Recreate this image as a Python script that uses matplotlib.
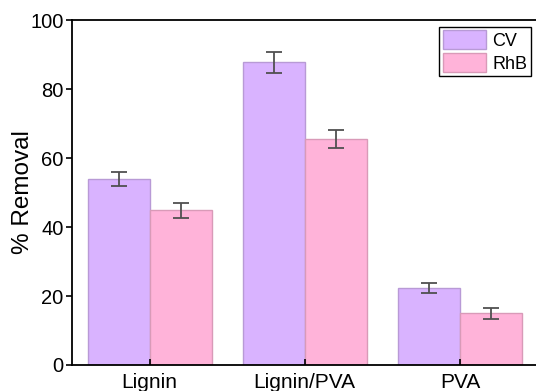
import matplotlib.pyplot as plt
import numpy as np

plt.rcParams['font.family'] = ['Liberation Sans', 'DejaVu Sans']

samples = ["Lignin", "Lignin/PVA", "PVA"]
cv = [53.9, 87.7, 22.3]
cv_err = [2.0, 3.1, 1.5]
rhb = [44.9, 65.5, 15.0]
rhb_err = [2.2, 2.6, 1.6]

x = np.arange(len(samples))
w = 0.4

fig = plt.figure(figsize=(5.36, 3.91), dpi=100)
ax = fig.add_axes([0.1343, 0.0665, 0.8685, 0.8823])

ekw = dict(ecolor="#505050", elinewidth=1.3, capthick=1.3)
ax.bar(x - w/2, cv, w, yerr=cv_err, capsize=5.5, color="#d9b3ff", edgecolor="#b89ad6",
       linewidth=1, label="CV", error_kw=ekw)
ax.bar(x + w/2, rhb, w, yerr=rhb_err, capsize=5.5, color="#ffb3d9", edgecolor="#d99ab8",
       linewidth=1, label="RhB", error_kw=ekw)

ax.set_xlim(-0.5, 2.5)
ax.set_ylim(0, 100)
ax.set_xticks(x)
ax.set_xticklabels(samples, fontsize=15)
ax.set_yticks(np.arange(0, 101, 20))
ax.tick_params(axis='y', labelsize=14.5, direction='out', length=4, width=1.2, pad=2)
ax.tick_params(axis='x', direction='in', length=4, width=1.2, pad=5.5)
ax.set_ylabel("% Removal", fontsize=17.5, labelpad=-3)
for s in ax.spines.values():
    s.set_linewidth(1.3)

leg = ax.legend(loc="upper right", fontsize=13,
                fancybox=False, edgecolor="black", framealpha=1,
                handlelength=2.4, handleheight=1.27, labelspacing=0.17,
                borderpad=0.2, handletextpad=0.33, borderaxespad=0.36)
leg.get_frame().set_linewidth(1.0)

plt.savefig("out.png", dpi=100)
